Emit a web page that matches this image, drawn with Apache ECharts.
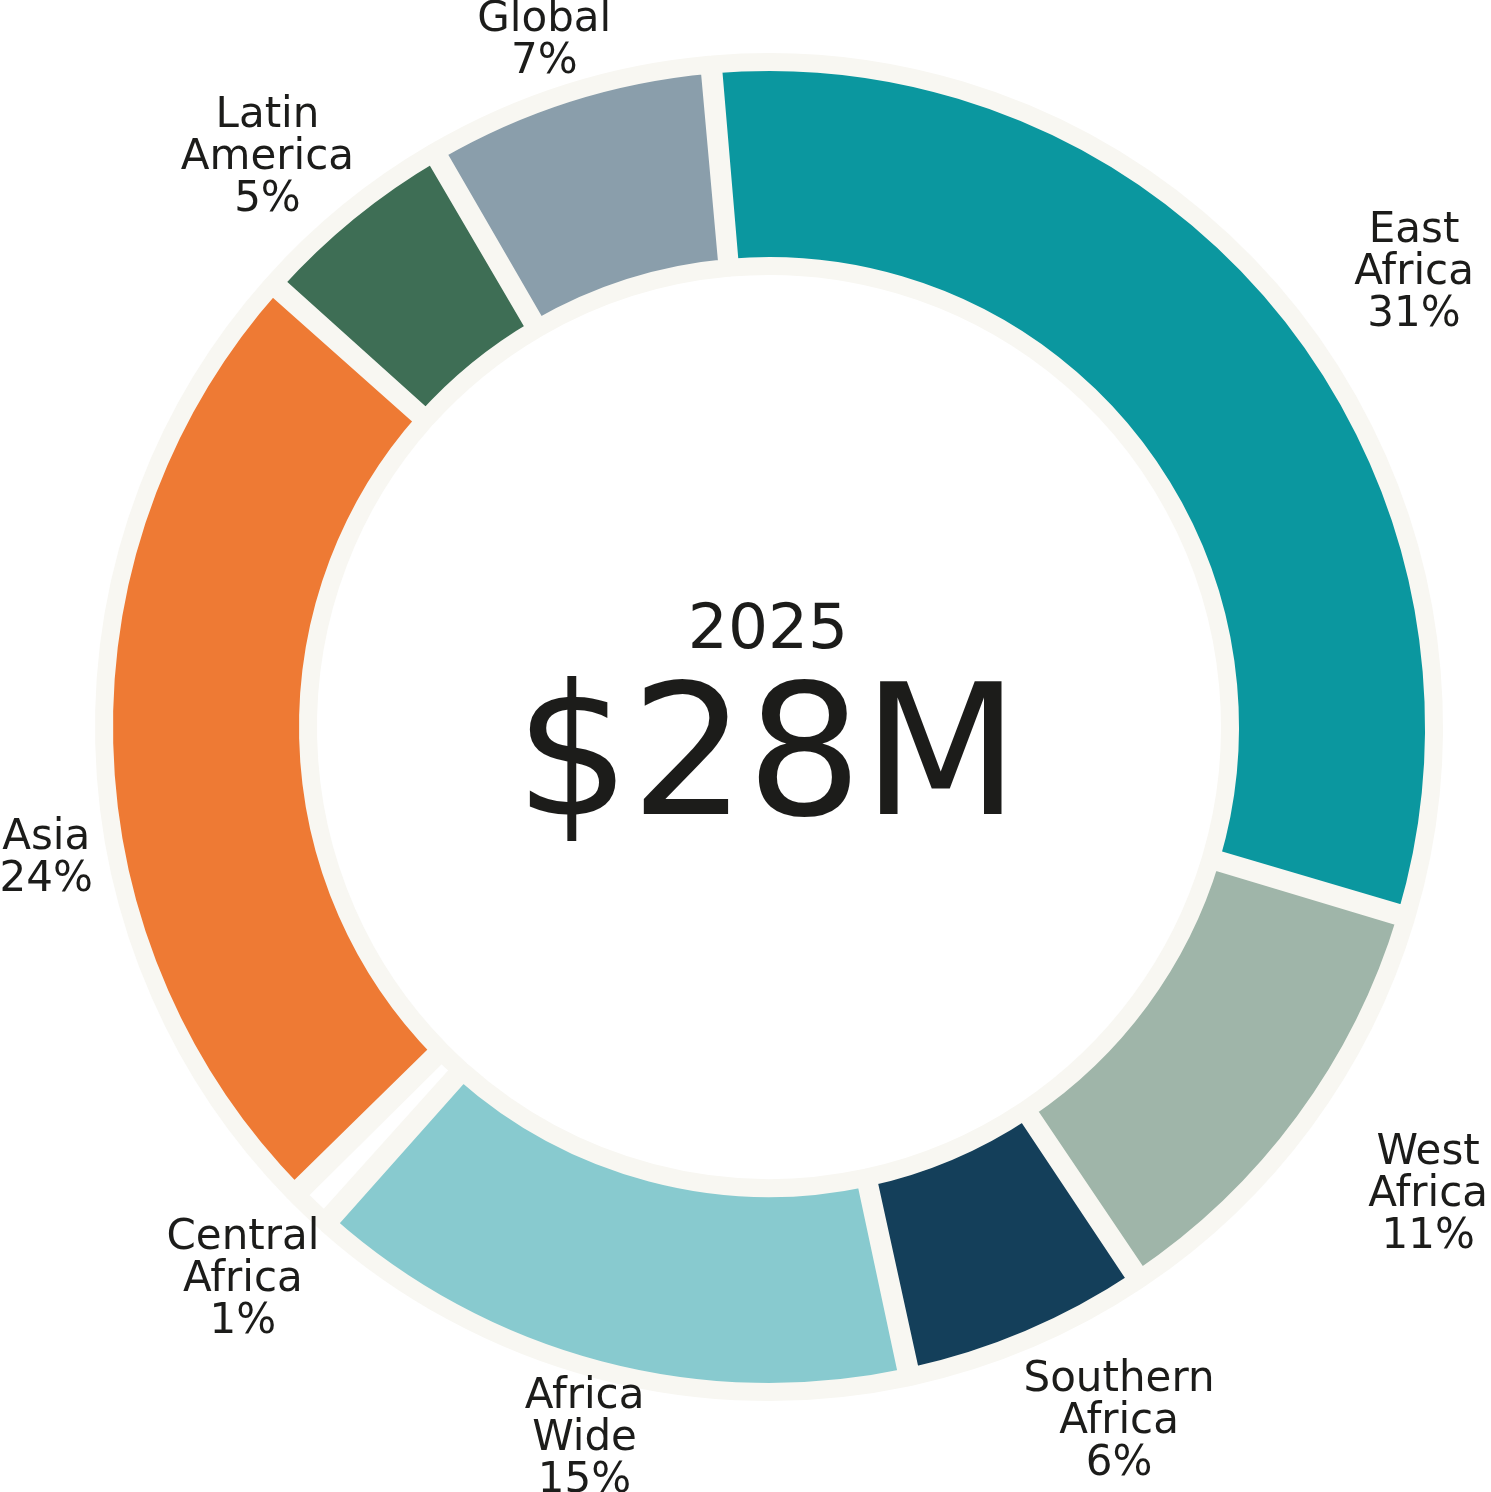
<!DOCTYPE html>
<html>
<head>
<meta charset="utf-8">
<style>
html,body{margin:0;padding:0;background:#ffffff;}
#chart{width:1491px;height:1492px;}
</style>
<script src="https://cdn.jsdelivr.net/npm/echarts@6/dist/echarts.min.js"></script>
</head>
<body>
<div id="chart"></div>
<script>
// ---- data ----
const regions = ['East Africa', 'West Africa', 'Southern Africa', 'Africa Wide', 'Central Africa', 'Asia', 'Latin America', 'Global'];
const shares = [31, 11, 6, 15, 1, 24, 5, 7];
const centerYear = '2025';
const centerTotal = '$28M';

// ---- styles ----
const sliceColors = ['#0b979f', '#9fb5a9', '#143f5a', '#88cacf', '#ffffff', '#ee7a34', '#3e6e55', '#8a9eab'];
const cream = '#f8f7f2';
const ink = '#1c1c1a';
const FONT = '"DejaVu Sans", "Liberation Sans", sans-serif';
const CX = 769, CY = 727;
// small label nudges so the labels sit where the reference places them
const labelNudge = {
  'East Africa': [46, 35],
  'West Africa': [37, 9],
  'Southern Africa': [48, -16],
  'Africa Wide': [13, -35],
  'Central Africa': [7, -7],
  'Asia': [50, 113],
  'Latin America': [-13, 30],
  'Global': [9, 51]
};

const chart = echarts.init(document.getElementById('chart'), null, {renderer: 'canvas'});
const sliceData = regions.map((name, i) => ({name: name, value: shares[i], itemStyle: {color: sliceColors[i]}}));
const labelData = regions.map((name, i) => ({name: name, value: shares[i]}));

chart.setOption({
  backgroundColor: '#ffffff',
  animation: false,
  series: [
    {
      type: 'pie',
      center: [CX, CY],
      radius: [461, 665],
      startAngle: 95,
      clockwise: true,
      padAngle: 0.3,
      silent: true,
      avoidLabelOverlap: false,
      label: {show: false},
      labelLine: {show: false},
      itemStyle: {borderColor: cream, borderWidth: 18},
      data: sliceData
    },
    {
      type: 'pie',
      center: [CX, CY],
      radius: [700, 840],
      startAngle: 95,
      clockwise: true,
      padAngle: 0.3,
      silent: true,
      avoidLabelOverlap: false,
      itemStyle: {color: 'rgba(0,0,0,0)', borderWidth: 0},
      labelLine: {show: false},
      label: {
        show: true,
        position: 'inside',
        formatter: p => p.name.replace(' ', '\n') + '\n' + p.value + '%',
        fontFamily: FONT,
        fontSize: 42,
        lineHeight: 42,
        color: ink,
        align: 'center'
      },
      labelLayout: function (p) {
        const d = labelNudge[regions[p.dataIndex]] || [0, 0];
        return {dx: d[0], dy: d[1]};
      },
      data: labelData
    }
  ],
  graphic: [
    {
      type: 'text', x: 768, y: 632, silent: true,
      style: {text: centerYear, fill: ink, font: '63px ' + FONT, align: 'center', verticalAlign: 'middle', textAlign: 'center', textVerticalAlign: 'middle'}
    },
    {
      type: 'text', x: 767, y: 767, silent: true,
      style: {text: centerTotal, fill: ink, font: '182px ' + FONT, align: 'center', verticalAlign: 'middle', textAlign: 'center', textVerticalAlign: 'middle'}
    }
  ]
});
</script>
</body>
</html>
